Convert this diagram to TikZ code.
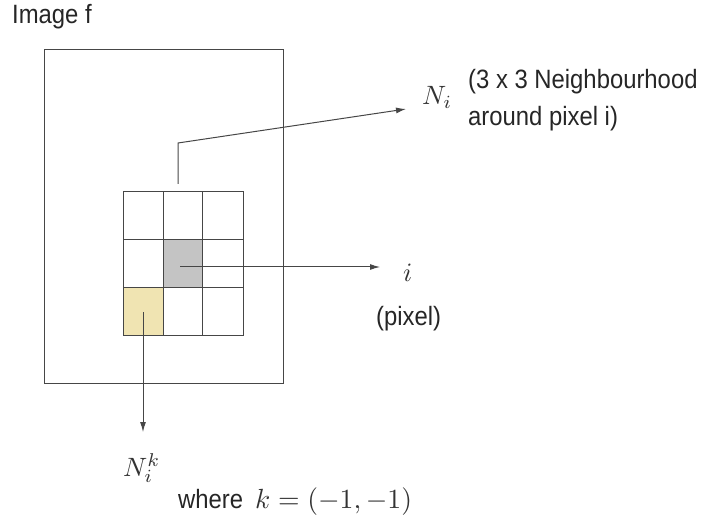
\documentclass[tikz,border=0pt]{standalone}
\usepackage{graphicx}
\usepackage{fontspec}
\newfontfamily\narrowsans[FakeStretch=0.9]{Liberation Sans}
\usetikzlibrary{arrows.meta}
\definecolor{cellyellow}{RGB}{240,228,178}
\definecolor{cellgray}{RGB}{196,196,196}
\definecolor{linegray}{RGB}{70,70,70}
\newcommand{\bigmath}[1]{\scalebox{2.65}{$#1$}}
\newcommand{\biggermath}[1]{\scalebox{2.77}{$#1$}}
\begin{document}
\begin{tikzpicture}[x=1pt,y=-1pt,
  ln/.style={draw=linegray,line width=1pt},
  arr/.style={ln,-{Latex[length=10pt,width=6pt]}},
  lbl/.style={font=\fontsize{26.5}{30}\narrowsans,text=black!85,inner sep=0pt,anchor=base west},
  mth/.style={text=black!80,inner sep=0pt,anchor=base west}]
\useasboundingbox (0,0) rectangle (701,521);
\node[lbl] (title) at (12,24) {Image f};
\node[ln,draw,minimum width=239pt,minimum height=334pt,anchor=north west,inner sep=0pt] (img) at (44,49) {};
% grid
\fill[cellgray] (163,240) rectangle (202,287);
\fill[cellyellow] (123,287) rectangle (163,335);
\draw[ln] (123,192) rectangle (243,335);
\draw[ln] (163,192) -- (163,335) (202,192) -- (202,335) (123,240) -- (243,240) (123,287) -- (243,287);
\coordinate (gc) at (180,267);
\coordinate (yc) at (143,312);
\coordinate (top) at (178,184);
\coordinate (bend) at (178,143);
\node[mth] (Ni) at (422,105) {\bigmath{N_i}};
\node[lbl] (nb1) at (468,89) {(3 x 3 Neighbourhood};
\node[lbl] (nb2) at (468,126) {around pixel i)};
\node[mth] (i) at (403,281) {\bigmath{i}};
\node[lbl] (px) at (376,325) {(pixel)};
\node[mth] (Nik) at (123,476) {\bigmath{N_i^k}};
\node[lbl] (wh) at (178,508) {where};
\node[mth] (keq) at (255,508) {\biggermath{k=(-1,-1)}};
\draw[arr] (top) -- (bend) -- (406,109) coordinate (ae);
\draw[arr] (gc) -- (380,267) coordinate (ie);
\draw[arr] (yc) -- (143,432) coordinate (ke);
\end{tikzpicture}
\end{document}
